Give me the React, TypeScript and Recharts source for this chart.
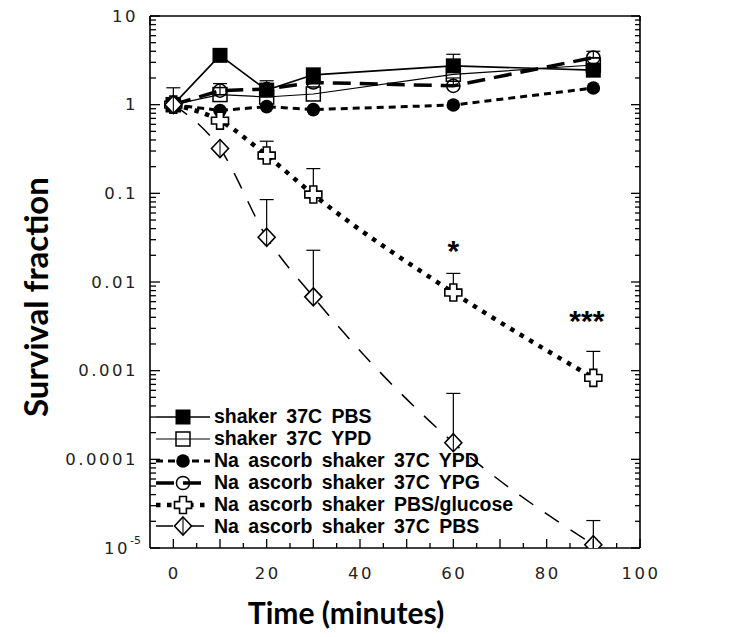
import React from 'react';
import { ComposedChart, Line, XAxis, YAxis, ErrorBar, Legend, ReferenceDot, Label } from 'recharts';

// sampling times (minutes)
const times = [0, 10, 20, 30, 60, 90];

// survival fraction per condition, upper error (null = no bar drawn)
const shakerPbs = [1, 3.6, 1.46, 2.17, 2.74, 2.45];
const shakerPbsErr = [null, null, 0.4, null, 0.96, null];
const shakerYpd = [1, 1.3, 1.22, 1.32, 2.2, 2.8];
const shakerYpdErr = [null, 0.43, null, null, null, null];
const ascYpd = [1, 0.86, 0.95, 0.88, 0.99, 1.54];
const ascYpdErr = [null, null, null, null, null, null];
const ascYpg = [1, 1.44, 1.5, 1.78, 1.63, 3.4];
const ascYpgErr = [null, null, null, null, 0.37, 0.6];
const ascPbsGlc = [1, 0.66, 0.267, 0.097, 0.0076, 0.00083];
const ascPbsGlcErr = [null, 0.2, 0.12, 0.093, 0.0049, 0.00082];
const ascPbs = [1, 0.32, 0.032, 0.0068, 0.000154, 0.0000109];
const ascPbsErr = [0.55, null, 0.053, 0.016, 0.0004, 0.0000095];

// significance marks
const starTimes = [60, 88.6];
const starValues = [0.027, 0.0043];
const starTexts = ['*', '***'];

// axes
const xTicks = [0, 5, 10, 15, 20, 25, 30, 35, 40, 45, 50, 55, 60, 65, 70, 75, 80, 85, 90, 95, 100];
const xLabelTicks = [0, 20, 40, 60, 80, 100];
const yDecades = [0.00001, 0.0001, 0.001, 0.01, 0.1, 1, 10];
const yDecadeLabels = ['10^-5', '0.0001', '0.001', '0.01', '0.1', '1', '10'];
const yTicks = yDecades.slice(0, -1).flatMap((d) => [1, 2, 3, 4, 5, 6, 7, 8, 9].map((k) => k * d)).concat([10]);

const withErr = (e: number | null) => (e == null ? undefined : [0, e]);

const data = times.map((t, i) => ({
  t,
  shakerPbs: shakerPbs[i],
  shakerPbsErr: withErr(shakerPbsErr[i]),
  shakerYpd: shakerYpd[i],
  shakerYpdErr: withErr(shakerYpdErr[i]),
  ascYpd: ascYpd[i],
  ascYpdErr: withErr(ascYpdErr[i]),
  ascYpg: ascYpg[i],
  ascYpgErr: withErr(ascYpgErr[i]),
  ascPbsGlc: ascPbsGlc[i],
  ascPbsGlcErr: withErr(ascPbsGlcErr[i]),
  ascPbs: ascPbs[i],
  ascPbsErr: withErr(ascPbsErr[i]),
}));

const series = [
  { key: 'shakerPbs', name: 'shaker 37C PBS', marker: 'filledSquare', width: 1.6, dash: undefined, curve: 'linear' },
  { key: 'shakerYpd', name: 'shaker 37C YPD', marker: 'openSquare', width: 1.2, dash: undefined, curve: 'linear' },
  { key: 'ascYpd', name: 'Na ascorb shaker 37C YPD', marker: 'filledCircle', width: 3, dash: '7 5', curve: 'linear' },
  { key: 'ascYpg', name: 'Na ascorb shaker 37C YPG', marker: 'openCircle', width: 3.5, dash: '18 9', curve: 'linear' },
  { key: 'ascPbsGlc', name: 'Na ascorb shaker PBS/glucose', marker: 'cross', width: 4.5, dash: '4.5 6.5', curve: 'monotone' },
  { key: 'ascPbs', name: 'Na ascorb shaker 37C PBS', marker: 'diamond', width: 1.5, dash: '17 14', curve: 'monotone' },
];

function Marker({ kind, cx, cy }: { kind: string; cx: number; cy: number }) {
  if (cx == null || cy == null) return null;
  switch (kind) {
    case 'filledSquare':
      return <rect x={cx - 7.5} y={cy - 7.5} width={15} height={15} fill="#000" />;
    case 'openSquare':
      return <rect x={cx - 7} y={cy - 7} width={14} height={14} fill="none" stroke="#000" strokeWidth={1.5} />;
    case 'filledCircle':
      return <circle cx={cx} cy={cy} r={6.8} fill="#000" />;
    case 'openCircle':
      return <circle cx={cx} cy={cy} r={6.6} fill="none" stroke="#000" strokeWidth={1.5} />;
    case 'cross': {
      const a = 8.5;
      const b = 3.4;
      const d = `M${cx - b},${cy - a}H${cx + b}V${cy - b}H${cx + a}V${cy + b}H${cx + b}V${cy + a}H${cx - b}V${cy + b}H${cx - a}V${cy - b}H${cx - b}Z`;
      return <path d={d} fill="#fff" stroke="#000" strokeWidth={1.6} />;
    }
    case 'diamond':
      return (
        <g>
          <path d={`M${cx},${cy - 9}L${cx + 8.5},${cy}L${cx},${cy + 9}L${cx - 8.5},${cy}Z`} fill="#fff" stroke="#000" strokeWidth={1.6} />
          <line x1={cx} x2={cx} y1={cy - 9} y2={cy + 9} stroke="#000" strokeWidth={1.1} />
        </g>
      );
    default:
      return null;
  }
}

const isDecade = (v: number) => Math.abs(Math.log10(v) - Math.round(Math.log10(v))) < 1e-9;
const tickFont = { fontFamily: '"DejaVu Sans", sans-serif', fontSize: 16.5, fill: '#222', letterSpacing: 2.5 };

const LeftTick = (p: any) => {
  const { x, y, payload } = p;
  const v = payload.value;
  const major = isDecade(v);
  let label: React.ReactNode = null;
  if (major) {
    const idx = yDecades.findIndex((d) => Math.abs(Math.log10(d) - Math.log10(v)) < 1e-9);
    const [base, sup] = yDecadeLabels[idx].split('^');
    label = (
      <text x={sup ? x - 9 : x - 12} y={y} textAnchor="end" dominantBaseline="central" {...tickFont}>
        {base}
        {sup && (
          <tspan dy={-8} fontSize={11} letterSpacing={0}>
            {sup}
          </tspan>
        )}
      </text>
    );
  }
  return (
    <g>
      <line x1={x} x2={x + (major ? 10 : 6)} y1={y} y2={y} stroke="#000" strokeWidth={1.3} />
      {label}
    </g>
  );
};

const RightTick = (p: any) => {
  const { x, y, payload } = p;
  const major = isDecade(payload.value);
  return <line x1={x} x2={x - (major ? 9 : 5)} y1={y} y2={y} stroke="#000" strokeWidth={1.3} />;
};

const BottomTick = (p: any) => {
  const { x, y, payload } = p;
  const v = payload.value;
  const major = v % 10 === 0;
  return (
    <g>
      <line x1={x} x2={x} y1={y} y2={y - (major ? 9 : 5)} stroke="#000" strokeWidth={1.3} />
      {xLabelTicks.includes(v) && (
        <text x={x + 1} y={y + 25} textAnchor="middle" dominantBaseline="central" {...tickFont}>
          {v}
        </text>
      )}
    </g>
  );
};

const TopTick = (p: any) => {
  const { x, y, payload } = p;
  const major = payload.value % 10 === 0;
  return <line x1={x} x2={x} y1={y} y2={y + (major ? 9 : 5)} stroke="#000" strokeWidth={1.3} />;
};

const renderLegend = () => (
  <div
    style={{
      fontFamily: '"Liberation Sans", Arial, sans-serif',
      fontWeight: 700,
      fontSize: 19.5,
      wordSpacing: 4,
      color: '#000',
    }}
  >
    {series.map((s) => (
      <div key={s.key} style={{ display: 'flex', alignItems: 'center', height: 21.9 }}>
        <svg width={64} height={22} style={{ display: 'block' }}>
          <line x1={6} x2={60} y1={11} y2={11} stroke="#000" strokeWidth={s.width} strokeDasharray={s.dash} />
          <Marker kind={s.marker} cx={33} cy={11} />
        </svg>
        <span style={{ whiteSpace: 'nowrap' }}>{s.name}</span>
      </div>
    ))}
  </div>
);

const titleFont = { fontFamily: 'Lato, "Open Sans", sans-serif', fontWeight: 700, fill: '#000' };

export default function App() {
  return (
    <div style={{ position: 'absolute', left: 0, top: 0, width: 736, height: 637, background: '#fff' }}>
      <ComposedChart width={736} height={637} data={data} margin={{ top: 0, right: 0, bottom: 0, left: 0 }}>
        <XAxis
          xAxisId="b"
          dataKey="t"
          type="number"
          domain={[-5, 100]}
          allowDataOverflow
          ticks={xTicks}
          interval={0}
          height={89}
          tickSize={0}
          tickMargin={0}
          tickLine={false}
          tick={BottomTick}
          axisLine={{ stroke: '#000', strokeWidth: 1.6 }}
        >
          <Label
            content={() => (
              <text x={346} y={624} textAnchor="middle" fontSize={30} {...titleFont}>
                Time (minutes)
              </text>
            )}
          />
        </XAxis>
        <XAxis
          xAxisId="top"
          orientation="top"
          type="number"
          domain={[-5, 100]}
          allowDataOverflow
          ticks={xTicks}
          interval={0}
          height={16}
          tickSize={0}
          tickMargin={0}
          tickLine={false}
          tick={TopTick}
          axisLine={{ stroke: '#000', strokeWidth: 1.6 }}
        />
        <YAxis
          yAxisId="l"
          scale="log"
          domain={[0.00001, 10]}
          allowDataOverflow
          ticks={yTicks}
          interval={0}
          width={150}
          tickSize={0}
          tickMargin={0}
          tickLine={false}
          tick={LeftTick}
          axisLine={{ stroke: '#000', strokeWidth: 1.6 }}
        >
          <Label
            content={() => (
              <text transform="translate(48,297) rotate(-90)" textAnchor="middle" fontSize={33} {...titleFont}>
                Survival fraction
              </text>
            )}
          />
        </YAxis>
        <YAxis
          yAxisId="r"
          orientation="right"
          scale="log"
          domain={[0.00001, 10]}
          allowDataOverflow
          ticks={yTicks}
          interval={0}
          width={96}
          tickSize={0}
          tickMargin={0}
          tickLine={false}
          tick={RightTick}
          axisLine={{ stroke: '#000', strokeWidth: 1.6 }}
        />
        <Legend
          layout="horizontal"
          verticalAlign="middle"
          align="center"
          content={renderLegend}
          wrapperStyle={{ position: 'absolute', left: 150, top: 406, width: 420, height: 132 }}
        />
        {series.map((s) => (
          <Line
            key={s.key}
            xAxisId="b"
            yAxisId="l"
            dataKey={s.key}
            name={s.name}
            type={s.curve as any}
            stroke="#000"
            strokeWidth={s.width}
            strokeDasharray={s.dash}
            isAnimationActive={false}
            dot={(p: any) => <Marker key={`${s.key}-${p.index}`} kind={s.marker} cx={p.cx} cy={p.cy} />}
            activeDot={false}
          >
            <ErrorBar dataKey={`${s.key}Err`} direction="y" width={7} stroke="#000" strokeWidth={1.2} isAnimationActive={false} />
          </Line>
        ))}
        {starTimes.map((t, i) => (
          <ReferenceDot
            key={`star-${i}`}
            xAxisId="b"
            yAxisId="l"
            x={t}
            y={starValues[i]}
            r={1}
            fill="none"
            stroke="none"
            label={(p: any) => (
              <text
                x={p.viewBox.x + p.viewBox.width / 2}
                y={p.viewBox.y + p.viewBox.height / 2 + 17}
                textAnchor="middle"
                fontSize={30}
                fontFamily='"Liberation Sans", Arial, sans-serif'
                fontWeight={700}
                fill="#000"
              >
                {starTexts[i]}
              </text>
            )}
          />
        ))}
      </ComposedChart>
    </div>
  );
}
